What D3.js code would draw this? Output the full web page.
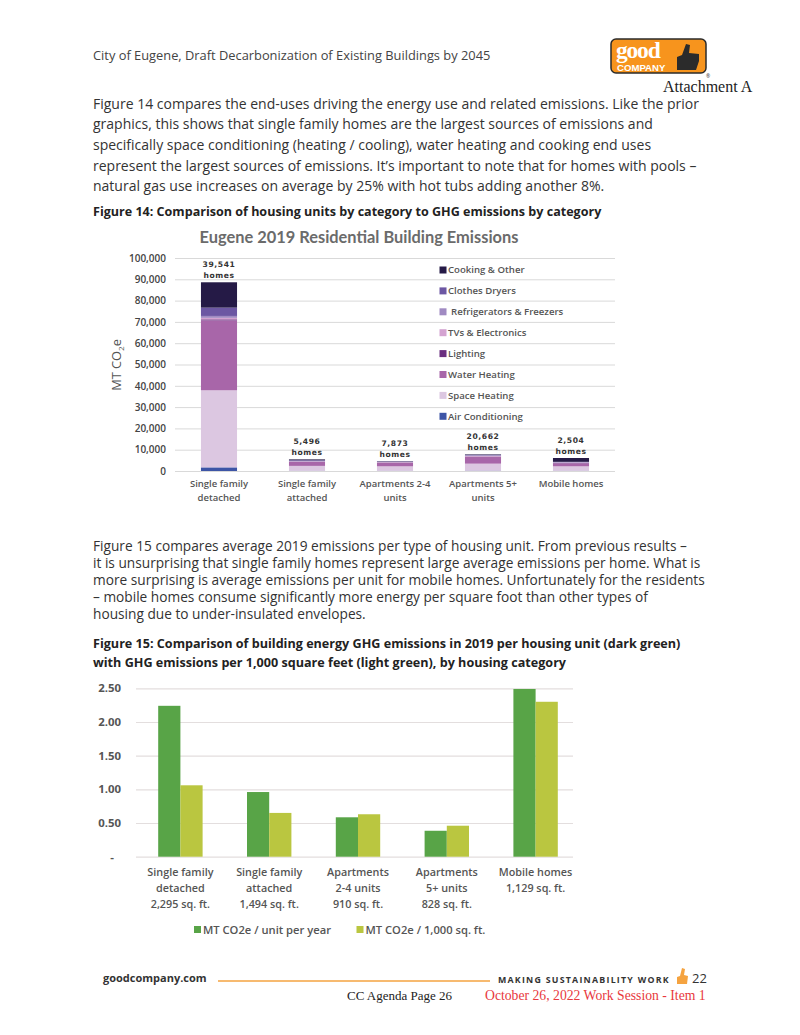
<!DOCTYPE html>
<html><head><meta charset="utf-8">
<script src="https://cdn.jsdelivr.net/npm/d3@7"></script>
<style>
html,body{margin:0;padding:0;background:#fff;}
svg{display:block;font-family:"Open Sans","Noto Sans",sans-serif;}
</style></head>
<body>
<svg id="page" width="800" height="1035"></svg>
<script>
// ---------- Data: Figure 14 ----------
const categories1 = ["Single family detached","Single family attached","Apartments 2-4 units","Apartments 5+ units","Mobile homes"];
const categoryLines1 = [["Single family","detached"],["Single family","attached"],["Apartments 2-4","units"],["Apartments 5+","units"],["Mobile homes"]];
const homesLabels = ["39,541","5,496","7,873","20,662","2,504"];
const endUses = ["Air Conditioning","Space Heating","Water Heating","Lighting","TVs & Electronics","Refrigerators & Freezers","Clothes Dryers","Cooking & Other"];
const airConditioning = [1700, 100, 100, 150, 100];
const spaceHeating    = [36200, 2300, 2100, 3300, 2100];
const waterHeating    = [32800, 1900, 1600, 3100, 1400];
const lighting        = [500, 100, 150, 200, 150];
const tvsElectronics  = [700, 150, 200, 300, 200];
const refrigerators   = [900, 200, 200, 300, 200];
const clothesDryers   = [3900, 300, 150, 200, 150];
const cookingOther    = [11900, 400, 150, 250, 1800];
const yTicks1 = [0,10000,20000,30000,40000,50000,60000,70000,80000,90000,100000];

// ---------- Data: Figure 15 ----------
const categories2 = ["Single family detached","Single family attached","Apartments 2-4 units","Apartments 5+ units","Mobile homes"];
const categoryLines2 = [["Single family","detached","2,295 sq. ft."],["Single family","attached","1,494 sq. ft."],["Apartments","2-4 units","910 sq. ft."],["Apartments","5+ units","828 sq. ft."],["Mobile homes","1,129 sq. ft."]];
const seriesNames2 = ["MT CO2e / unit per year","MT CO2e / 1,000 sq. ft."];
const perUnit   = [2.24, 0.96, 0.585, 0.385, 2.49];
const per1000sf = [1.06, 0.65, 0.63, 0.46, 2.30];
const yTicks2 = [0,0.5,1,1.5,2,2.5];

const svg = d3.select("#page");
svg.append("rect").attr("width",800).attr("height",1035).attr("fill","#fff");
const SERIF = "Liberation Serif, DejaVu Serif, serif";

// ---------- Header ----------
svg.append("text").attr("x",93).attr("y",60).attr("font-size",12.85).attr("fill","#444")
  .text("City of Eugene, Draft Decarbonization of Existing Buildings by 2045");
// logo
const logo = svg.append("g").attr("transform","translate(611,39)");
logo.append("rect").attr("width",95).attr("height",34).attr("rx",5).attr("fill","#f7941d").attr("stroke","#2b2b2b").attr("stroke-width",1.5);
logo.append("text").attr("x",5).attr("y",18.5).attr("font-family",SERIF).attr("font-weight",700).attr("font-size",23.5).attr("fill","#fff").attr("letter-spacing",-1.2).text("good");
logo.append("text").attr("x",6).attr("y",31.5).attr("font-family","Liberation Sans, sans-serif").attr("font-weight",700).attr("font-size",9.6).attr("fill","#fff").text("COMPANY");
logo.append("path").attr("d","M66,31 L66,18 L71,16 L75,5 L79,6 L78,14 L88,15 L88,22 L85,31 Z").attr("fill","#2b2b2b");
svg.append("text").attr("x",706).attr("y",78).attr("font-size",5).attr("fill","#333").text("®");
svg.append("text").attr("x",663).attr("y",91.5).attr("font-family",SERIF).attr("font-size",16).attr("fill","#222").text("Attachment A");

// ---------- Paragraph 1 ----------
const para1 = [
 "Figure 14 compares the end-uses driving the energy use and related emissions. Like the prior",
 "graphics, this shows that single family homes are the largest sources of emissions and",
 "specifically space conditioning (heating / cooling), water heating and cooking end uses",
 "represent the largest sources of emissions. It\u2019s important to note that for homes with pools \u2013",
 "natural gas use increases on average by 25% with hot tubs adding another 8%."
];
para1.forEach((l,i)=>svg.append("text").attr("x",93).attr("y",108.5+i*20.7).attr("font-size",14.0).attr("fill","#333").text(l));

svg.append("text").attr("x",93).attr("y",216).attr("font-size",12.55).attr("font-weight",700).attr("fill","#222")
  .text("Figure 14: Comparison of housing units by category to GHG emissions by category");

// ---------- Chart 1 ----------
const c1 = svg.append("g");
c1.append("text").attr("x",359).attr("y",243).attr("text-anchor","middle").attr("font-family","Lato, sans-serif").attr("font-size",16.4).attr("font-weight",700).attr("fill","#6b6b6b")
  .text("Eugene 2019 Residential Building Emissions");

const x1 = d3.scaleBand().domain(categories1).range([175,615]).paddingInner(0.59).paddingOuter(0.295);
const y1 = d3.scaleLinear().domain([0,100000]).range([471,258]);

const gy1 = c1.append("g").attr("transform","translate(175,0)")
  .call(d3.axisLeft(y1).tickValues(yTicks1).tickFormat(d3.format(",")).tickSize(-440).tickPadding(9));
gy1.select(".domain").remove();
gy1.selectAll(".tick line").attr("stroke","#d9d9d9").attr("stroke-width",1);
gy1.selectAll(".tick text").attr("font-size",10).attr("fill","#444").attr("font-family","Open Sans, sans-serif").attr("font-weight",600);

c1.append("text").attr("transform","translate(121,365) rotate(-90)").attr("text-anchor","middle").attr("font-size",12.8).attr("fill","#555")
  .html('MT CO<tspan font-size="8" dy="3">2</tspan><tspan dy="-3">e</tspan>');

const colors1 = {"Air Conditioning":"#3d55a6","Space Heating":"#dcc7e1","Water Heating":"#a866a9","Lighting":"#6b2e80",
  "TVs & Electronics":"#d4a3d1","Refrigerators & Freezers":"#a08ac2","Clothes Dryers":"#6c57a3","Cooking & Other":"#251a46"};
const seriesVals1 = [airConditioning, spaceHeating, waterHeating, lighting, tvsElectronics, refrigerators, clothesDryers, cookingOther];
const table1 = categories1.map((c,i)=>{ const o={cat:c}; endUses.forEach((e,j)=>o[e]=seriesVals1[j][i]); return o; });
const stack1 = d3.stack().keys(endUses)(table1);
c1.append("g").selectAll("g").data(stack1).join("g").attr("fill",d=>colors1[d.key])
  .selectAll("rect").data(d=>d).join("rect")
  .attr("x",d=>x1(d.data.cat)).attr("width",x1.bandwidth())
  .attr("y",d=>y1(d[1])).attr("height",d=>y1(d[0])-y1(d[1]));

// data labels
const totals1 = table1.map(d=>d3.sum(endUses,e=>d[e]));
categories1.forEach((c,i)=>{
  const cx = x1(c)+x1.bandwidth()/2, top = y1(totals1[i]);
  c1.append("text").attr("x",cx).attr("y",top-15).attr("text-anchor","middle").attr("font-family","DejaVu Sans, sans-serif").attr("font-size",7.6).attr("font-weight",700).attr("letter-spacing",0.6).attr("fill","#333").text(homesLabels[i]);
  c1.append("text").attr("x",cx).attr("y",top-4).attr("text-anchor","middle").attr("font-family","DejaVu Sans, sans-serif").attr("font-size",7.6).attr("font-weight",700).attr("letter-spacing",0.6).attr("fill","#333").text("homes");
  categoryLines1[i].forEach((l,k)=>c1.append("text").attr("x",cx).attr("y",487+k*13.5).attr("text-anchor","middle").attr("font-size",9.5).attr("font-weight",600).attr("fill","#555").text(l));
});

// legend
const legendOrder = endUses.slice().reverse();
legendOrder.forEach((e,i)=>{
  const ly = 270+i*20.9;
  c1.append("rect").attr("x",439.5).attr("y",ly-3.5).attr("width",7).attr("height",7).attr("fill",colors1[e]);
  c1.append("text").attr("x",e.startsWith("Refrig")?451:448).attr("y",ly+3.4).attr("font-size",9.6).attr("font-weight",600).attr("fill","#555").text(e);
});

// ---------- Paragraph 2 ----------
const para2 = [
 "Figure 15 compares average 2019 emissions per type of housing unit. From previous results \u2013",
 "it is unsurprising that single family homes represent large average emissions per home. What is",
 "more surprising is average emissions per unit for mobile homes. Unfortunately for the residents",
 "\u2013 mobile homes consume significantly more energy per square foot than other types of",
 "housing due to under-insulated envelopes."
];
para2.forEach((l,i)=>svg.append("text").attr("x",93).attr("y",551+i*17).attr("font-size",13.7).attr("fill","#333").text(l));

svg.append("text").attr("x",93).attr("y",648).attr("font-size",12.6).attr("font-weight",700).attr("fill","#222")
  .text("Figure 15: Comparison of building energy GHG emissions in 2019 per housing unit (dark green)");
svg.append("text").attr("x",93).attr("y",667).attr("font-size",12.6).attr("font-weight",700).attr("fill","#222")
  .text("with GHG emissions per 1,000 square feet (light green), by housing category");

// ---------- Chart 2 ----------
const c2 = svg.append("g");
const x2 = d3.scaleBand().domain(categories2).range([136,580]).paddingInner(0.5).paddingOuter(0.25);
const xs2 = d3.scaleBand().domain(seriesNames2).range([0,x2.bandwidth()]);
const y2 = d3.scaleLinear().domain([0,2.5]).range([856.7,688.3]);
const gy2 = c2.append("g").attr("transform","translate(136,0)")
  .call(d3.axisLeft(y2).tickValues(yTicks2).tickFormat(d=>d===0?"-":d.toFixed(2)).tickSize(-437).tickPadding(15));
gy2.select(".domain").remove();
gy2.selectAll(".tick line").attr("stroke","#e3dede").attr("stroke-width",1.2);
gy2.selectAll(".tick text").attr("font-size",11.4).attr("fill","#555").attr("font-family","Open Sans, sans-serif").attr("font-weight",700)
  .attr("dx",d=>d===0?-7:0);
const colors2 = {"MT CO2e / unit per year":"#58a447","MT CO2e / 1,000 sq. ft.":"#bac640"};
const table2 = categories2.map((c,i)=>({cat:c, vals:[{k:seriesNames2[0],v:perUnit[i]},{k:seriesNames2[1],v:per1000sf[i]}]}));
c2.append("g").selectAll("g").data(table2).join("g").attr("transform",d=>`translate(${x2(d.cat)},0)`)
  .selectAll("rect").data(d=>d.vals).join("rect")
  .attr("x",d=>xs2(d.k)).attr("width",xs2.bandwidth()).attr("y",d=>y2(d.v)).attr("height",d=>y2(0)-y2(d.v)).attr("fill",d=>colors2[d.k]);
categories2.forEach((c,i)=>{
  const cx = x2(c)+x2.bandwidth()/2;
  categoryLines2[i].forEach((l,k)=>c2.append("text").attr("x",cx).attr("y",876+k*16).attr("text-anchor","middle").attr("font-size",10.8).attr("font-weight",600).attr("fill","#555").text(l));
});
// legend 2
const leg2x = [194,356.5];
seriesNames2.forEach((s,i)=>{
  c2.append("rect").attr("x",leg2x[i]).attr("y",926).attr("width",7).attr("height",7).attr("fill",colors2[s]);
  c2.append("text").attr("x",leg2x[i]+9).attr("y",934).attr("font-size",11.2).attr("font-weight",600).attr("fill","#555").text(s);
});

// ---------- Footer ----------
svg.append("text").attr("x",103).attr("y",982).attr("font-size",11).attr("font-weight",700).attr("fill","#333").text("goodcompany.com");
svg.append("line").attr("x1",218).attr("x2",490).attr("y1",981).attr("y2",981).attr("stroke","#f5a340").attr("stroke-width",1.5);
svg.append("text").attr("x",498).attr("y",983).attr("font-size",8.8).attr("font-weight",700).attr("letter-spacing",1.25).attr("fill","#333").text("MAKING SUSTAINABILITY WORK");
svg.append("path").attr("d","M677,984 L677,977 L680,976 L682,968 L685,969 L684,975 L688,976 L687,984 Z").attr("fill","#f5a340");
svg.append("text").attr("x",692).attr("y",983).attr("font-size",13).attr("fill","#333").text("22");
svg.append("text").attr("x",347).attr("y",1000).attr("font-family",SERIF).attr("font-size",13).attr("fill","#222").text("CC Agenda Page 26");
svg.append("text").attr("x",485).attr("y",1000).attr("font-family",SERIF).attr("font-size",13.7).attr("fill","#e8383d").text("October 26, 2022 Work Session - Item 1");
</script>
</body></html>
